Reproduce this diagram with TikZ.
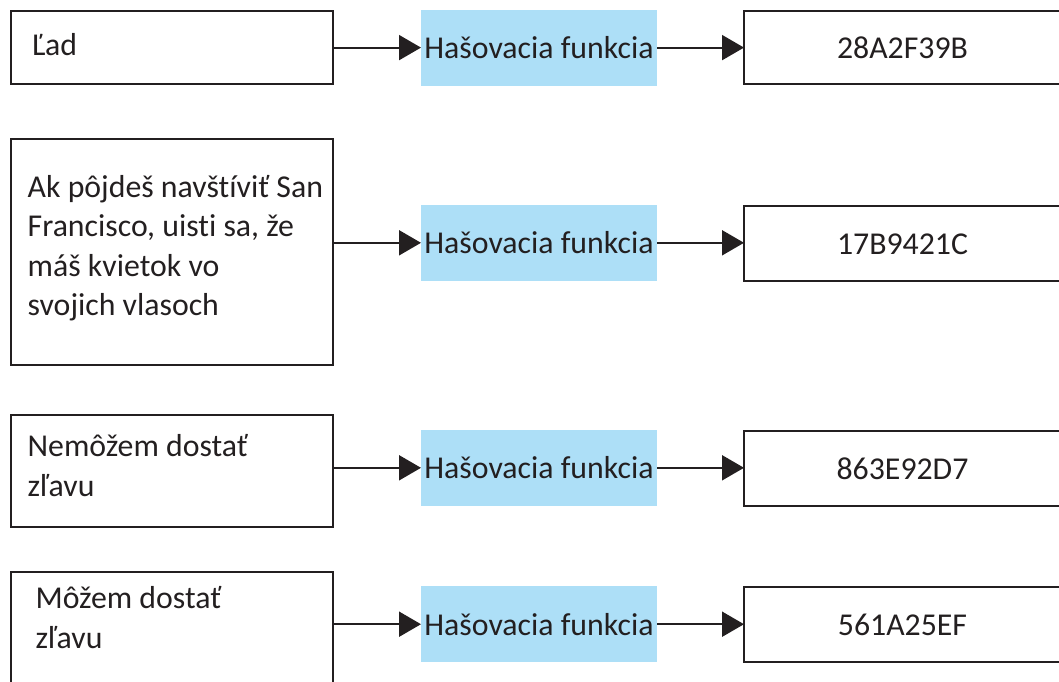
\documentclass[tikz,border=0pt]{standalone}
\usepackage{fontspec}
\setmainfont{Carlito}[Ligatures=NoCommon]
\usetikzlibrary{arrows.meta}
\definecolor{ink}{HTML}{231F20}
\definecolor{hashblue}{RGB}{173,223,247}
\newcommand\bodyfont{\fontsize{31.8}{39.5}\selectfont}
\tikzset{
  frame/.style={draw=ink, line width=2pt, inner sep=0pt, outer sep=0pt},
  inbox/.style={frame, minimum width=322pt},
  outbox/.style={frame, minimum width=317pt, text=ink, font=\bodyfont},
  hashbox/.style={fill=hashblue, inner sep=0pt, outer sep=0pt,
    minimum width=236pt, minimum height=76pt, text=ink, font=\bodyfont},
  msg/.style={anchor=north west, align=left, inner sep=0pt, text=ink, font=\bodyfont},
  flow/.style={draw=ink, line width=2pt, -{Triangle[length=22pt,width=25pt]}},
}
\begin{document}
\begin{tikzpicture}[x=1pt, y=-1pt]
\useasboundingbox (0,0) rectangle (1059,681);
\clip (0,0) rectangle (1059,681);

% input messages
\node[inbox, minimum height=73pt]    (in1) at (172,47.5) {};
\node[inbox, minimum height=226pt]   (in2) at (172,251.5) {};
\node[inbox, minimum height=111.4pt] (in3) at (172,471) {};
\node[inbox, minimum height=200pt]   (in4) at (172,672) {};

\node[msg] (in1t) at (31.5,27.35) {\strut Ľad};
\node[msg] (in2t) at (27.5,169.35) {\strut Ak pôjdeš navštíviť San\\\strut Francisco, uisti sa, že\\\strut máš kvietok vo\\\strut svojich vlasoch};
\node[msg] (in3t) at (27.5,429) {\strut Nemôžem dostať\\\strut zľavu};
\node[msg] (in4t) at (35.5,580.7) {\strut Môžem dostať\\\strut zľavu};

% hash function blocks
\node[hashbox] (h1) at (539,47.6)  {Hašovacia funkcia};
\node[hashbox] (h2) at (539,242.8) {Hašovacia funkcia};
\node[hashbox] (h3) at (539,467.8) {Hašovacia funkcia};
\node[hashbox] (h4) at (539,624.2) {Hašovacia funkcia};

% digests
\node[outbox, minimum height=73pt] (o1) at (902.5,47.6)  {28A2F39B};
\node[outbox, minimum height=75pt] (o2) at (902.5,243.8) {17B9421C};
\node[outbox, minimum height=75pt] (o3) at (902.5,468.5) {863E92D7};
\node[outbox, minimum height=75pt] (o4) at (902.5,624.5) {561A25EF};

% arrows
\foreach \i in {1,2,3,4}{
  \draw[flow] (h\i.west -| in\i.east) -- (h\i.west);
  \draw[flow] (h\i.east) -- (h\i.east -| o\i.west);
}
\end{tikzpicture}
\end{document}
